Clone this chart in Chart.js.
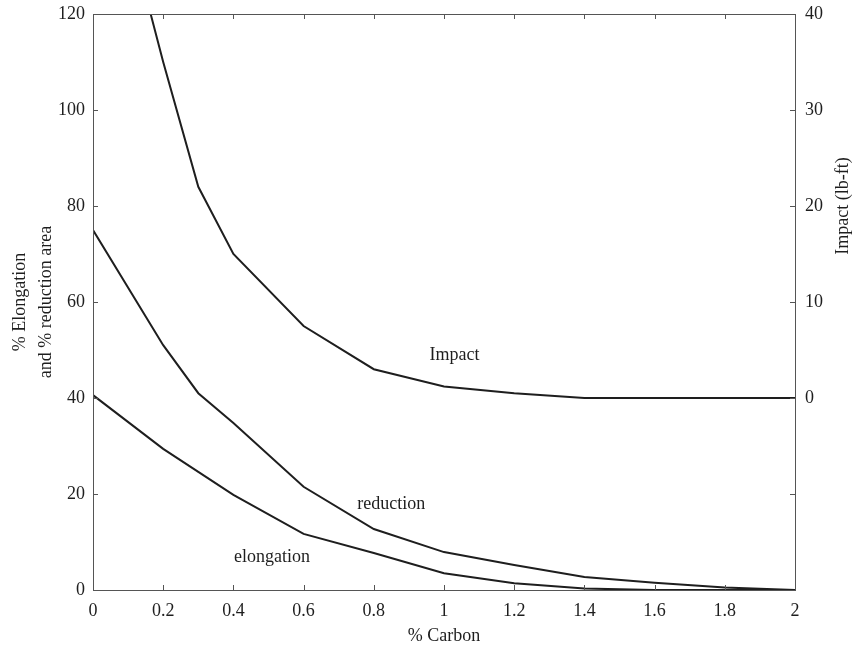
<!DOCTYPE html>
<html>
<head>
<meta charset="utf-8">
<script src="https://cdn.jsdelivr.net/npm/chart.js@4.4.1/dist/chart.umd.min.js"></script>
<style>
  body { margin: 0; background: #fff; }
</style>
</head>
<body>
<canvas id="myChart" width="865" height="649"></canvas>
<script>
// % carbon for the two tensile curves
const carbon = [0, 0.2, 0.3, 0.4, 0.6, 0.8, 1.0, 1.2, 1.4, 1.6, 1.8, 2.0];
const reduction = [75, 51, 41, 34.8, 21.5, 12.7, 7.9, 5.2, 2.7, 1.5, 0.5, 0];
const elongation = [40.6, 29.4, 24.6, 19.8, 11.7, 7.7, 3.5, 1.4, 0.3, 0, 0, 0];

// impact curve, read against the right axis (lb-ft)
const impactCarbon = [0.1, 0.2, 0.3, 0.4, 0.6, 0.8, 1.0, 1.2, 1.4, 1.6, 1.8, 2.0];
const impactValues = [49, 35, 22, 15, 7.5, 3, 1.2, 0.5, 0, 0, 0, 0];

// text written next to each curve: [label, carbon, left-axis value]
const curveLabels = [
    ['Impact', 1.03, 49],
    ['reduction', 0.85, 17.8],
    ['elongation', 0.51, 6.9]
];

const serif = "'Liberation Serif', 'Times New Roman', serif";
const ink = '#1e1e1e';

function points(xs, ys) {
    let out = [];
    for (let k = 0; k < xs.length; k++) {
        out.push({x: xs[k], y: ys[k]});
    }
    return out;
}

const framePlugin = {
    id: 'frame',
    afterDatasetsDraw(chart) {
        const ctx = chart.ctx;
        const a = chart.chartArea;
        const sx = chart.scales.x;
        const sy = chart.scales.y;
        const sy1 = chart.scales.y1;
        const tick = 5;

        ctx.save();
        ctx.strokeStyle = '#555';
        ctx.lineWidth = 1;
        ctx.strokeRect(a.left + 0.5, a.top + 0.5, a.right - a.left, a.bottom - a.top);

        ctx.beginPath();
        sx.ticks.forEach(function (t) {
            let px = Math.round(sx.getPixelForValue(t.value)) + 0.5;
            ctx.moveTo(px, a.bottom);
            ctx.lineTo(px, a.bottom - tick);
            ctx.moveTo(px, a.top);
            ctx.lineTo(px, a.top + tick);
        });
        sy.ticks.forEach(function (t) {
            let py = Math.round(sy.getPixelForValue(t.value)) + 0.5;
            ctx.moveTo(a.left, py);
            ctx.lineTo(a.left + tick, py);
        });
        sy1.ticks.forEach(function (t) {
            let py = Math.round(sy1.getPixelForValue(t.value)) + 0.5;
            ctx.moveTo(a.right, py);
            ctx.lineTo(a.right - tick, py);
        });
        ctx.stroke();

        // curve names
        ctx.fillStyle = ink;
        ctx.font = '18px ' + serif;
        ctx.textAlign = 'center';
        ctx.textBaseline = 'middle';
        curveLabels.forEach(function (l) {
            ctx.fillText(l[0], sx.getPixelForValue(l[1]), sy.getPixelForValue(l[2]));
        });

        // right axis title, centred on the labelled part of the axis
        ctx.translate(843, sy1.getPixelForValue(20));
        ctx.rotate(-Math.PI / 2);
        ctx.fillText('Impact (lb-ft)', 0, 0);
        ctx.restore();
    }
};

function noTopPad(s) {
    s.paddingTop = 0;
    s.paddingBottom = 0;
}

const config = {
    type: 'line',
    data: {
        datasets: [
            {
                label: 'Impact',
                data: points(impactCarbon, impactValues),
                yAxisID: 'y1',
                borderColor: ink,
                borderWidth: 2,
                pointRadius: 0
            },
            {
                label: 'reduction',
                data: points(carbon, reduction),
                yAxisID: 'y',
                borderColor: ink,
                borderWidth: 2,
                pointRadius: 0
            },
            {
                label: 'elongation',
                data: points(carbon, elongation),
                yAxisID: 'y',
                borderColor: ink,
                borderWidth: 2,
                pointRadius: 0
            }
        ]
    },
    options: {
        responsive: false,
        animation: false,
        layout: {padding: {top: 14, left: 0, right: 0, bottom: 0}},
        plugins: {
            legend: {display: false},
            tooltip: {enabled: false}
        },
        scales: {
            x: {
                type: 'linear',
                min: 0,
                max: 2,
                grid: {display: false, drawTicks: false},
                border: {display: false},
                ticks: {
                    stepSize: 0.2,
                    padding: 10,
                    color: ink,
                    font: {family: serif, size: 18},
                    maxRotation: 0,
                    callback: function (v) { return String(Number(v.toFixed(1))); }
                },
                title: {
                    display: true,
                    text: '% Carbon',
                    color: ink,
                    font: {family: serif, size: 18},
                    padding: {top: 0, bottom: 2}
                },
                afterFit: function (s) { s.height = 59; }
            },
            y: {
                position: 'left',
                min: 0,
                max: 120,
                grid: {display: false, drawTicks: false},
                border: {display: false},
                ticks: {
                    stepSize: 20,
                    padding: 8,
                    color: ink,
                    font: {family: serif, size: 18}
                },
                title: {
                    display: true,
                    text: ['% Elongation', 'and % reduction area'],
                    color: ink,
                    font: {family: serif, size: 18, lineHeight: 1.44},
                    padding: {top: 7, bottom: 0}
                },
                afterFit: function (s) { s.width = 93; noTopPad(s); }
            },
            y1: {
                position: 'right',
                min: -20,
                max: 40,
                grid: {display: false, drawTicks: false},
                border: {display: false},
                ticks: {
                    stepSize: 10,
                    padding: 10,
                    color: ink,
                    font: {family: serif, size: 18},
                    callback: function (v) { return v < 0 ? '' : v; }
                },
                afterFit: function (s) { s.width = 70; noTopPad(s); }
            }
        }
    },
    plugins: [framePlugin]
};

let myChart = document.getElementById('myChart');
let graficar = new Chart(myChart, config);
</script>
</body>
</html>
